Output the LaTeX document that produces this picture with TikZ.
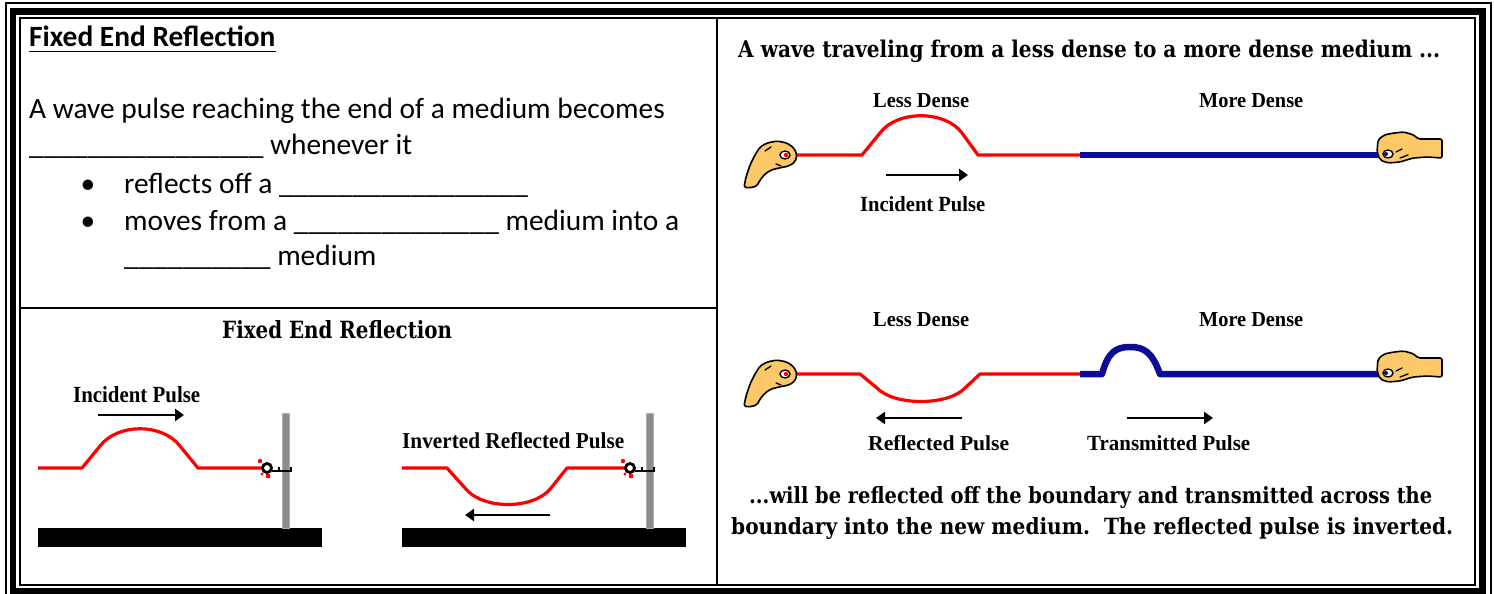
\documentclass[tikz,border=0pt]{standalone}
\usepackage{fontspec}
\usepackage{graphicx}
\setmainfont{Carlito}
\newfontfamily\slabfont{DejaVu Serif}
\newfontfamily\lblfont{Liberation Serif}
\usetikzlibrary{arrows.meta}

\definecolor{ropered}{RGB}{255,0,0}
\definecolor{denseblue}{RGB}{12,12,150}
\definecolor{handskin}{RGB}{252,200,104}
\definecolor{postgray}{RGB}{140,140,140}

% text from the wave diagrams, stretched to a given width and height
\newcommand\gifword[3]{\resizebox{#1pt}{#2pt}{#3}}
% a row of underscores for the fill-in blanks
\ExplSyntaxOn
\cs_new:Npn \fillin #1 { \prg_replicate:nn {#1} { \textunderscore } }
\ExplSyntaxOff

\begin{document}
\begin{tikzpicture}[x=1pt,y=-1pt,
  rope/.style={draw=ropered, line width=3.2pt, line join=round},
  dense/.style={draw=denseblue, line width=6.5pt, line join=round},
  motion/.style={line width=2.6pt, -{Triangle[length=9pt,width=12pt]}},
  hand/.style={fill=handskin, draw=black, line width=1.6pt, line join=round, rounded corners=2pt},
  crease/.style={draw=black, line width=1.3pt, line cap=round},
  grip/.style={fill=white, draw=black, line width=1.4pt},
  post/.style={fill=postgray, draw=postgray!70!white, line width=0.8pt},
  body/.style={anchor=base west, inner sep=0pt, font=\fontsize{29.4}{35}\selectfont},
  dot/.style={anchor=base, inner sep=0pt, font=\fontsize{29.4}{35}\selectfont},
  serifhead/.style={anchor=base west, inner sep=0pt, font=\slabfont\bfseries},
  serifcap/.style={anchor=base west, inner sep=0pt, font=\lblfont\bfseries},
]
\useasboundingbox (0,0) rectangle (1494,594);
\clip (0,0) rectangle (1494,594);

% triple page frame
\draw[line width=2pt] (5.5,3.5) rectangle (1490.5,600);
\draw[line width=6.5pt] (13,11.5) rectangle (1482.5,591.5);
\draw[line width=2pt] (19.5,18) rectangle (1475,585);
% cell dividers
\draw[line width=2.5pt] (717,18) -- (717,585);
\draw[line width=2pt] (19.5,308) -- (717,308);

% ---------- worksheet text ----------
\node[body, font=\bfseries\fontsize{29.4}{35}\selectfont] (ttl) at (29,47) {Fixed End Reflection};
\draw[line width=1.5pt] ([yshift=-4.5pt]ttl.base west) -- ([yshift=-4.5pt]ttl.base east);
\node[body] (l1) at (29,118) {A wave pulse reaching the end of a medium becomes};
\node[body] (l2) at (29,154) {\fillin{16} whenever it};
\node[dot] (b1) at (88,193) {•};
\node[body] (l3) at (124,193) {reflects off a \fillin{17}};
\node[dot] (b2) at (88,230) {•};
\node[body] (l4) at (124,230) {moves from a \fillin{14} medium into a};
\node[body] (l5) at (124,265) {\fillin{10} medium};

% ---------- fixed end reflection ----------
\node[serifhead] (fer) at (222,338) {\gifword{230}{18}{Fixed End Reflection}};
\node[serifcap] (ip0) at (73,402) {\gifword{127}{16}{Incident Pulse}};
\node[serifcap] (irp) at (402,448) {\gifword{222}{16}{Inverted Reflected Pulse}};

% bases and posts
\fill (38,528) rectangle (322,547);
\fill (402,528) rectangle (686,547);
\draw[post] (282,413) rectangle (289.5,528);
\draw[post] (646,413) rectangle (653.5,528);

% upright pulse travelling to the wall
\draw[rope] (38,468) -- (82,468) -- (100,446) .. controls (118,423) and (162,423) .. (180,446) -- (198,468) -- (262,468);
% inverted pulse after reflection
\draw[rope] (402,468) -- (447,468) -- (465,488) .. controls (482,510) and (534,510) .. (551,488) -- (567,468) -- (626,468);

% knots fixing the rope to the posts
\foreach \kx in {267,630} {
  \fill[ropered] (\kx-7,461) circle (2.2) (\kx+1,476) circle (2.4) (\kx-5,474) circle (1.6);
  \draw[line width=2.8pt] (\kx,468) circle (4.5);
  \draw[line width=2.4pt] (\kx+5,471) -- (\kx+24,471) -- (\kx+24,467);
  \draw[line width=2pt] (\kx+12,471) -- (\kx+12,467);
}

\draw[motion] (98,415) -- (184,415);
\draw[motion] (550,515) -- (465,515);

% ---------- less dense to more dense ----------
\node[serifhead] (hd) at (738,57) {\gifword{702}{17.5}{A wave traveling from a less dense to a more dense medium ...}};
\node[serifcap] (ld1) at (873,107) {\gifword{96}{14}{Less Dense}};
\node[serifcap] (md1) at (1199,107) {\gifword{104}{14}{More Dense}};
\node[serifcap] (ip1) at (860,211) {\gifword{125}{15}{Incident Pulse}};
\node[serifcap] (ld2) at (873,326) {\gifword{96}{14}{Less Dense}};
\node[serifcap] (md2) at (1199,326) {\gifword{104}{14}{More Dense}};
\node[serifcap] (rp) at (868,450) {\gifword{141}{15}{Reflected Pulse}};
\node[serifcap] (tp) at (1087,450) {\gifword{163}{15}{Transmitted Pulse}};
\node[serifhead] (s1) at (749,503) {\gifword{683}{17}{...will be reflected off the boundary and transmitted across the}};
\node[serifhead] (s2) at (731,534) {\gifword{722}{17}{boundary into the new medium.\ \ The reflected pulse is inverted.}};

% incident pulse
\draw[rope] (790,155) -- (862,155) -- (880,133) .. controls (897,110) and (945,110) .. (962,133) -- (978,155) -- (1082,155);
\draw[dense] (1080,155) -- (1392,155);
% reflected and transmitted pulses
\draw[rope] (790,374) -- (860,374) -- (877,388) .. controls (894,406) and (948,406) .. (965,388) -- (980,374) -- (1082,374);
\draw[dense] (1080,374) -- (1102,374) .. controls (1108,352) and (1116,347) .. (1130,347) .. controls (1144,347) and (1152,352) .. (1160,374) -- (1392,374);

\draw[motion] (886,175) -- (968,175);
\draw[motion] (962,418) -- (876,418);
\draw[motion] (1127,418) -- (1213,418);

% hands holding the rope ends
\foreach \hy in {0,219} {
  \begin{scope}[shift={(785,155+\hy)}]
    \draw[hand] (-41,32) -- (-39,22) -- (-35,10) -- (-30,0) -- (-25,-8) -- (-18,-12) -- (-8,-14) -- (2,-12) -- (9,-7) -- (12,0) -- (10,7) -- (4,11) -- (-6,13) -- (-14,15) -- (-20,19) -- (-25,25) -- (-28,31) -- (-36,33) -- cycle;
    \draw[crease] (-20,-4) -- (-14,-8);
    \draw[crease] (-9,9) -- (-4,11);
    \draw[grip] (0,0) ellipse (5 and 4);
    \fill[ropered] (1,0) circle (2.2);
  \end{scope}
  \begin{scope}[shift={(1388,154+\hy)}]
    \draw[hand] (-10,-14) -- (-4,-19) -- (6,-21) -- (16,-22) -- (26,-19) -- (30,-15) -- (54,-15) -- (54,4) -- (39,3) -- (25,4) -- (12,8) -- (0,9) -- (-8,6) -- (-11,-2) -- cycle;
    \draw[crease] (8,-2) -- (14,-5);
    \draw[crease] (12,4) -- (20,1);
    \draw[grip] (0,0) ellipse (5 and 4);
    \fill[denseblue] (-2,0) circle (2);
  \end{scope}
}

\end{tikzpicture}
\end{document}
